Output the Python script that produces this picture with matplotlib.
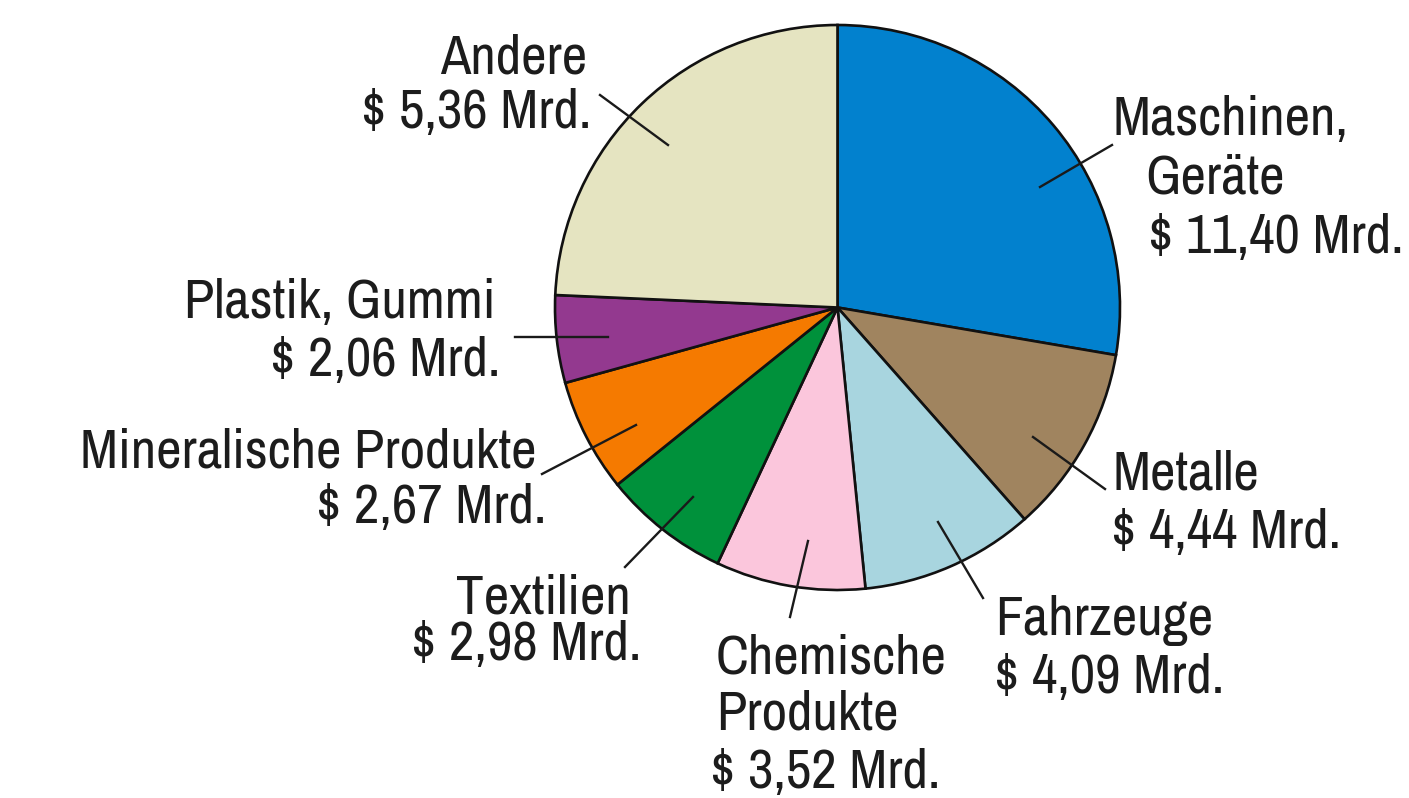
import matplotlib.pyplot as plt

# categories, values shown in labels, and wedge sizes as drawn in the picture
categories = ['Maschinen,\nGeräte', 'Metalle', 'Fahrzeuge', 'Chemische\nProdukte',
              'Textilien', 'Mineralische Produkte', 'Plastik, Gummi', 'Andere']
values = [11.40, 4.44, 4.09, 3.52, 2.98, 2.67, 2.06, 5.36]
sizes = [11.40, 4.44, 4.09, 3.52, 2.98, 2.67, 2.06, 10.0]
colors = ['#0281ce', '#a0845f', '#a8d5df', '#fbc6dc', '#00913b', '#f57a00', '#93398f', '#e5e4c1']

# label layout in pixels from the top-left: alignment, (x, baseline) of each name line,
# (x, baseline) of the value line, leader line start and end
layout = [
    ('left', [(1113, 135), (1145, 193)], (1148, 253), (1040, 187), (1112, 145)),
    ('left', [(1113, 490)], (1111, 548), (1033, 437), (1105, 489)),
    ('left', [(995, 635)], (994, 693), (938, 522), (983, 598)),
    ('left', [(716, 673), (716, 730)], (710, 788), (808, 541), (790, 617)),
    ('right', [(631, 613)], (641, 660), (693, 497), (625, 567)),
    ('right', [(536, 468)], (546, 523), (636, 425), (542, 474)),
    ('right', [(496, 318)], (500, 376), (608, 337), (515, 337)),
    ('right', [(587, 73)], (591, 128), (668, 145), (600, 95)),
]

H = 798
FONT = ['Archivo Narrow', 'DejaVu Sans']
FS = 40
TXT = '#1c1c1c'


def main():
    fig = plt.figure(figsize=(14.09, 7.98), dpi=100)
    ax = fig.add_axes([0, 0, 1, 1])

    ax.pie(sizes, colors=colors, startangle=90, counterclock=False,
           center=(837.5, H - 307.5), radius=282.5, frame=True,
           wedgeprops=dict(edgecolor='#111111', linewidth=1.9))
    ax.set_xlim(0, 1409)
    ax.set_ylim(0, H)
    ax.set_aspect('equal')
    ax.axis('off')

    for name, val, (ha, name_xy, val_xy, p0, p1) in zip(categories, values, layout):
        ax.plot([p0[0], p1[0]], [H - p0[1], H - p1[1]], color='#1a1a1a', lw=1.7)
        for line, (x, y) in zip(name.split('\n'), name_xy):
            ax.text(x, H - y, line, ha=ha, va='baseline', fontsize=FS,
                    family=FONT, color=TXT)
        valtxt = '$ ' + f'{val:.2f}'.replace('.', ',') + ' Mrd.'
        ax.text(val_xy[0], H - val_xy[1], valtxt, ha=ha, va='baseline',
                fontsize=FS, family=FONT, color=TXT)

    fig.savefig('out.png', dpi=100)


if __name__ == '__main__':
    main()
